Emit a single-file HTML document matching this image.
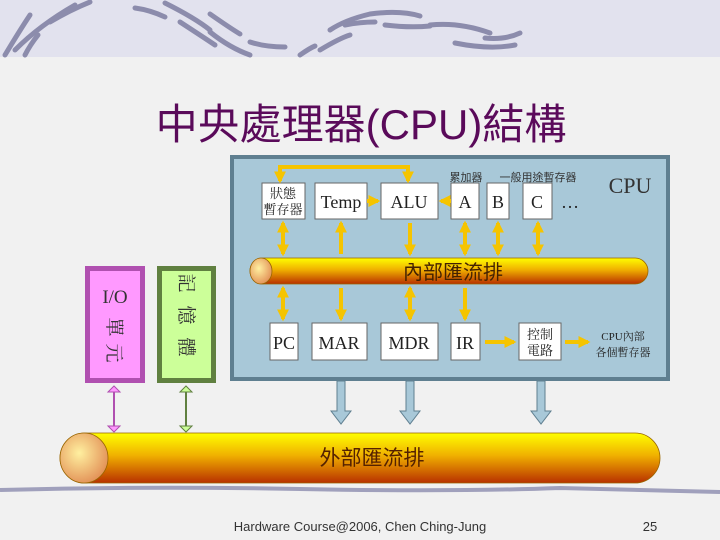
<!DOCTYPE html>
<html><head><meta charset="utf-8"><style>
html,body{margin:0;padding:0;background:#f1f1f1;width:720px;height:540px;overflow:hidden}
svg{display:block}
text{font-family:"Liberation Serif","Noto Serif CJK SC","Noto Sans CJK TC",serif}
.s{font-family:"Liberation Sans","Noto Sans CJK TC",sans-serif}
</style></head><body>
<svg width="720" height="540" viewBox="0 0 720 540" xmlns="http://www.w3.org/2000/svg">
<defs>
<linearGradient id="bus" x1="0" y1="0" x2="0" y2="1">
<stop offset="0" stop-color="#ffff00"/><stop offset="0.45" stop-color="#f0b000"/><stop offset="1" stop-color="#b83000"/>
</linearGradient>
<radialGradient id="cap" cx="0.4" cy="0.4" r="0.7">
<stop offset="0" stop-color="#fff0a0"/><stop offset="1" stop-color="#e08850"/>
</radialGradient>
<marker id="ya" viewBox="0 0 10 10" refX="8" refY="5" markerWidth="3" markerHeight="3" orient="auto-start-reverse"><path d="M0,0L10,5L0,10z" fill="#f5c400"/></marker>
</defs>
<rect x="0" y="0" width="720" height="57" fill="#e2e2ee"/>
<g stroke="#8c8cac" stroke-linecap="round" fill="none" stroke-width="5">
<path d="M5,55 Q20,30 30,15"/><path d="M15,50 Q40,25 75,5"/><path d="M50,22 Q70,10 90,2"/><path d="M25,55 Q30,45 38,35"/>
<path d="M135,8 Q150,10 165,17"/><path d="M165,3 Q195,18 210,30"/><path d="M180,22 Q200,35 215,45"/><path d="M210,32 Q230,48 250,55"/><path d="M250,42 Q265,47 285,47"/><path d="M210,14 Q230,28 240,34"/>
<path d="M300,55 Q310,48 315,46"/><path d="M320,50 Q340,38 350,35"/><path d="M330,30 Q345,20 370,14 Q400,10 420,16"/><path d="M345,25 Q360,22 375,22"/><path d="M385,25 Q410,28 430,26"/><path d="M430,25 Q460,22 490,33"/><path d="M455,43 Q490,50 515,45"/><path d="M485,38 Q505,40 520,33"/>
</g>
<text x="361" y="139" text-anchor="middle" font-size="42" fill="#5a0a5a" class="s">中央處理器(CPU)結構</text>
<rect x="230" y="155" width="440" height="226" fill="#5f7f90"/>
<rect x="234" y="159" width="432" height="218" fill="#a8c8d8"/>
<text x="630" y="193" text-anchor="middle" font-size="22" fill="#333">CPU</text>
<text x="466" y="181" text-anchor="middle" font-size="11" fill="#333" class="s">累加器</text>
<text x="538" y="181" text-anchor="middle" font-size="11" fill="#333" class="s">一般用途暫存器</text>
<g fill="#fff" stroke="#666">
<rect x="262" y="183" width="43" height="36"/><rect x="315" y="183" width="52" height="36"/><rect x="381" y="183" width="57" height="36"/>
<rect x="451" y="183" width="28" height="36"/><rect x="487" y="183" width="22" height="36"/><rect x="523" y="183" width="29" height="36"/>
<rect x="270" y="323" width="28" height="37"/><rect x="312" y="323" width="55" height="37"/><rect x="381" y="323" width="57" height="37"/><rect x="451" y="323" width="29" height="37"/><rect x="519" y="323" width="42" height="37"/>
</g>
<g font-size="18" fill="#222" text-anchor="middle">
<text x="341" y="208">Temp</text><text x="409" y="208">ALU</text><text x="465" y="208">A</text><text x="498" y="208">B</text><text x="537" y="208">C</text><text x="570" y="208">…</text>
<text x="284" y="349">PC</text><text x="339" y="349">MAR</text><text x="409" y="349">MDR</text><text x="465" y="349">IR</text>
</g>
<g font-size="13" fill="#222" text-anchor="middle" class="s">
<text x="283" y="198">狀態</text><text x="283" y="214">暫存器</text>
<text x="540" y="339">控制</text><text x="540" y="355">電路</text>
</g>
<g font-size="11" fill="#222" text-anchor="middle" class="s"><text x="623" y="340">CPU內部</text><text x="623" y="356">各個暫存器</text></g>
<g stroke="#f5c400" stroke-width="4" fill="none" marker-end="url(#ya)">
<path d="M280,181 V167 H408 V181" marker-start="url(#ya)"/>
<path d="M367,201 H378"/><path d="M451,201 H441"/>
<path d="M283,223 V254" marker-start="url(#ya)"/><path d="M341,254 V223"/><path d="M410,223 V254"/>
<path d="M465,223 V254" marker-start="url(#ya)"/><path d="M498,223 V254" marker-start="url(#ya)"/><path d="M538,223 V254" marker-start="url(#ya)"/>
<path d="M283,288 V319" marker-start="url(#ya)"/><path d="M341,288 V319"/><path d="M410,288 V319" marker-start="url(#ya)"/><path d="M465,288 V319"/>
<path d="M485,342 H514"/><path d="M565,342 H588"/>
</g>
<rect x="250" y="258" width="398" height="26" rx="13" fill="url(#bus)" stroke="#996600" stroke-width="0.8"/>
<ellipse cx="261" cy="271" rx="11" ry="13" fill="url(#cap)" stroke="#996600" stroke-width="0.8"/>
<text x="453" y="279" text-anchor="middle" font-size="20" fill="#442200" class="s">內部匯流排</text>
<g fill="#a8c8d8" stroke="#5f7f90" stroke-width="1">
<path d="M337,381 h8 v30 h6 l-10,13 l-10,-13 h6z"/><path d="M406,381 h8 v30 h6 l-10,13 l-10,-13 h6z"/><path d="M537,381 h8 v30 h6 l-10,13 l-10,-13 h6z"/>
</g>
<rect x="85" y="266" width="60" height="117" fill="#b050b0"/>
<rect x="90" y="271" width="50" height="107" fill="#ff99ff"/>
<rect x="157" y="266" width="59" height="117" fill="#608040"/>
<rect x="162" y="271" width="49" height="107" fill="#ccff99"/>
<text x="115" y="303" text-anchor="middle" font-size="19" fill="#333">I/O</text>
<g font-size="19" fill="#333" text-anchor="middle" class="s">
<text x="115" y="334" transform="rotate(90 115 327)">單</text><text x="115" y="360" transform="rotate(90 115 353)">元</text>
<text x="187" y="290" transform="rotate(90 187 283)">記</text><text x="187" y="322" transform="rotate(90 187 315)">憶</text><text x="187" y="354" transform="rotate(90 187 347)">體</text>
</g>
<g stroke-width="2" fill="none">
<path d="M114,388 V430" stroke="#b050b0"/><path d="M186,388 V430" stroke="#608040"/>
</g>
<path d="M108,392 l6,-6 l6,6z M108,426 l6,6 l6,-6z" fill="#ff99ff" stroke="#b050b0"/>
<path d="M180,392 l6,-6 l6,6z M180,426 l6,6 l6,-6z" fill="#ccff99" stroke="#608040"/>
<rect x="60" y="433" width="600" height="50" rx="25" fill="url(#bus)" stroke="#996600" stroke-width="0.8"/>
<ellipse cx="84" cy="458" rx="24" ry="25" fill="url(#cap)" stroke="#996600" stroke-width="0.8"/>
<text x="372" y="465" text-anchor="middle" font-size="21" fill="#552200" class="s">外部匯流排</text>
<path d="M0,490 Q150,486 300,489 Q450,492 560,488 Q640,490 720,492" stroke="#a0a0bc" stroke-width="4" fill="none"/>
<text x="360" y="531" text-anchor="middle" font-size="13" fill="#333" class="s">Hardware Course@2006, Chen Ching-Jung</text>
<text x="650" y="531" text-anchor="middle" font-size="13" fill="#333" class="s">25</text>
</svg>
</body></html>
